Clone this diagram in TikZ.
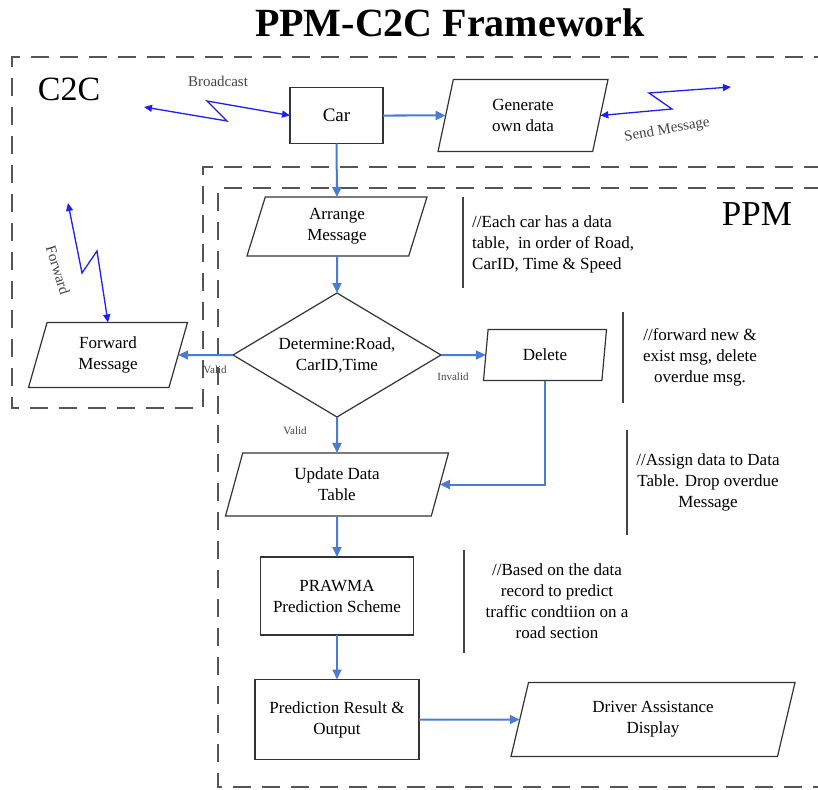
\documentclass[tikz,border=0pt]{standalone}
\usepackage{fontspec}
\setmainfont{Liberation Serif}
\usetikzlibrary{shapes.geometric,arrows.meta}
\definecolor{flowblue}{HTML}{4A7DD1}
\definecolor{zzblue}{HTML}{1F1FF0}
\definecolor{boxline}{HTML}{333333}
\definecolor{dashgray}{HTML}{555555}
\definecolor{lblgray}{HTML}{444444}
\begin{document}
\begin{tikzpicture}[x=1pt,y=-1pt,
  txt/.style={font=\fontsize{17}{21}\selectfont},
  box/.style={draw=boxline, line width=1.2pt, rectangle, inner sep=0pt, outer sep=0pt, align=center, txt},
  para/.style n args={2}{draw=boxline, line width=1.2pt, trapezium, trapezium left angle=#1, trapezium right angle=#2, trapezium stretches body, inner sep=0pt, outer sep=0pt, align=center, txt},
  dia/.style={draw=boxline, line width=1.2pt, diamond, aspect=1.68, inner sep=0pt, outer sep=0pt, align=center, txt},
  flow/.style={draw=flowblue, line width=2pt, -{Triangle[length=10pt,width=9pt]}},
  zz/.style={draw=zzblue, line width=1.3pt, {Triangle[length=8pt,width=7pt]}-{Triangle[length=8pt,width=7pt]}, line join=miter},
  region/.style={draw=dashgray, line width=1.8pt, dash pattern=on 18pt off 11pt},
  note/.style={font=\fontsize{17}{21}\selectfont, align=center, inner sep=0pt},
  noteline/.style={draw=lblgray, line width=1.2pt},
  small/.style={font=\fontsize{11}{13}\selectfont, text=lblgray, inner sep=0pt},
  wire/.style={font=\fontsize{15}{18}\selectfont, text=lblgray, inner sep=0pt}]
\useasboundingbox (0,0) rectangle (818,789);

% regions
\draw[region] (822,167) -- (203,167) -- (203,408) -- (12,408) -- (12,57) -- (822,57);
\draw[region] (822,188) -- (218,188) -- (218,787) -- (822,787);

% titles
\node[font=\fontsize{40}{48}\selectfont\bfseries, anchor=base, inner sep=0pt] (title) at (450,37) {PPM-C2C Framework};
\node[font=\fontsize{34}{40}\selectfont, anchor=base, inner sep=0pt] (c2c) at (69,100) {C2C};
\node[font=\fontsize{35}{40}\selectfont, anchor=base, inner sep=0pt] (ppm) at (757,225) {PPM};

% nodes
\node[box, minimum width=93pt, minimum height=56pt, font=\fontsize{19}{22}\selectfont] (car) at (336.5,115.5) {Car};
\node[para={64.7}{115.3}, minimum width=170pt, minimum height=72pt] (gen) at (523,115.5) {Generate\\own data};
\node[para={63}{117}, minimum width=180pt, minimum height=59pt] (arr) at (337,226.5) {Arrange\\Message};
\node[dia, minimum width=208pt, minimum height=124pt] (det) at (337,355) {Determine:Road,\\CarID,Time};
\node[para={63}{117}, minimum width=159pt, minimum height=65pt] (fwd) at (108,355) {Forward\\Message};
\node[para={69}{111}, minimum width=123pt, minimum height=51pt] (del) at (545,355) {Delete};
\node[para={62.4}{117.6}, minimum width=223pt, minimum height=63pt] (upd) at (337,484.5) {Update Data\\Table};
\node[box, minimum width=153pt, minimum height=78pt] (pra) at (337,596) {PRAWMA\\Prediction Scheme};
\node[box, minimum width=164pt, minimum height=80pt] (pre) at (337,719.5) {Prediction Result \&\\Output};
\node[para={64}{116}, minimum width=284pt, minimum height=74pt] (drv) at (653,719.5) {Driver Assistance\\Display};

% flow arrows
\draw[flow] (car.east) -- (gen.west);
\draw[flow] (car.south) -- (arr.north);
\draw[flow] (arr.south) -- (det.north);
\draw[flow] (det.west) -- (fwd.east);
\draw[flow] (det.east) -- (del.west);
\draw[flow] (det.south) -- (upd.north);
\draw[flow] (del.south) |- (upd.east);
\draw[flow] (upd.south) -- (pra.north);
\draw[flow] (pra.south) -- (pre.north);
\draw[flow] (pre.east) -- (drv.west);

% wireless links
\coordinate (bcL) at (144,107);
\coordinate (smR) at (731,87);
\coordinate (fwT) at (68,203);
\draw[zz] (bcL) -- (227,121) -- (207,101) -- (car.west);
\draw[zz] (gen.east) -- (672,109) -- (649,93) -- (smR);
\draw[zz] (fwT) -- (82,273) -- (97,251) -- (fwd.north);
\node[wire] (lbc) at (218,81) {Broadcast};
\node[wire, rotate=10] (lsm) at (667,130) {Send Message};
\node[wire, rotate=-73] (lfw) at (58,270) {Forward};

% branch labels
\node[small] (v1) at (215,370) {Valid};
\node[small] (v2) at (295,431) {Valid};
\node[small] (inv) at (453,377) {Invalid};

% notes
\draw[noteline] (463,197) -- (463,288);
\node[note, align=left, anchor=west] (n1) at (472,244) {//Each car has a data\\table,\ \ in order of Road,\\CarID, Time \& Speed};
\draw[noteline] (623,312) -- (623,403);
\node[note] (n2) at (700,357) {//forward new \&\\exist msg, delete\\overdue msg.};
\draw[noteline] (627,430) -- (627,535);
\node[note] (n3) at (708,482) {//Assign data to Data\\Table. Drop overdue\\Message};
\draw[noteline] (464,550) -- (464,653);
\node[note] (n4) at (557,601) {//Based on the data\\record to predict\\traffic condtiion on a\\road section};
\end{tikzpicture}
\end{document}
